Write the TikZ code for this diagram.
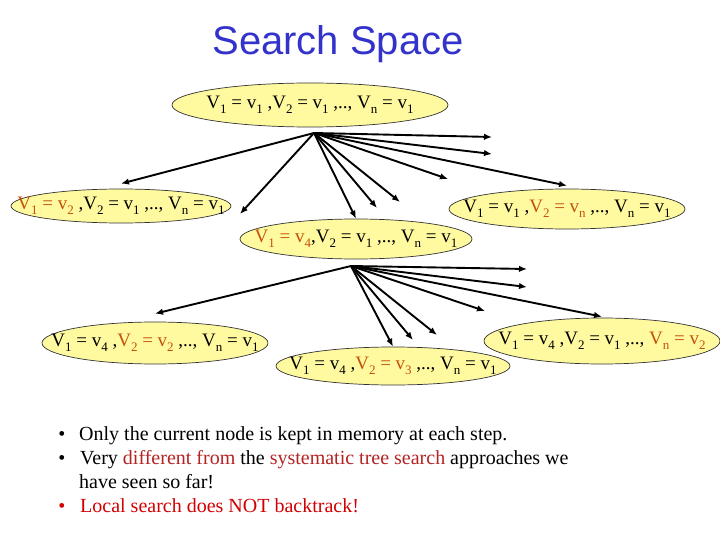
\documentclass[tikz,border=0pt]{standalone}
\usepackage{fontspec}
\setmainfont{Liberation Serif}
\newfontfamily\titlefont{Liberation Sans}
\usetikzlibrary{shapes.geometric,arrows.meta}
\definecolor{fillyel}{RGB}{255,250,160}
\definecolor{hl}{RGB}{196,80,10}
\definecolor{titleblue}{RGB}{51,51,204}
\definecolor{dred}{RGB}{180,35,35}
\definecolor{bred}{RGB}{210,0,0}
\newcommand{\sbs}[1]{\raisebox{-4.5pt}{\fontsize{13}{13}\selectfont #1}}
\newcommand{\lbl}[1]{\makebox[0pt]{\raisebox{-2pt}{\fontsize{19}{19}\selectfont #1}}}
\tikzset{
  st/.style={ellipse, draw=black!80, fill=fillyel, line width=0.7pt, inner sep=0pt},
  arr/.style={-{Latex[length=8pt,width=6.5pt]}, line width=1.9pt},
  btxt/.style={anchor=base west, inner sep=0pt, font=\fontsize{20}{24}\selectfont},
  bdot/.style={anchor=base, inner sep=0pt, font=\fontsize{20}{24}\selectfont}
}
\begin{document}
\begin{tikzpicture}[x=1pt,y=-1pt]
\useasboundingbox (0,0) rectangle (720,540);
\node[inner sep=0pt, font=\titlefont\fontsize{40}{40}\selectfont, text=titleblue] (title) at (338,44) {Search Space};

\node[st, minimum width=276, minimum height=44] (root) at (310,105)
  {\lbl{V\sbs{1} = v\sbs{1} ,V\sbs{2} = v\sbs{1} ,.., V\sbs{n} = v\sbs{1}}};
\node[st, minimum width=220, minimum height=34] (L) at (121,206)
  {\lbl{{\color{hl}V\sbs{1} = v\sbs{2}} ,V\sbs{2} = v\sbs{1} ,.., V\sbs{n} = v\sbs{1}}};
\node[st, minimum width=236, minimum height=40] (R) at (567,209)
  {\lbl{V\sbs{1} = v\sbs{1} ,{\color{hl}V\sbs{2} = v\sbs{n}} ,.., V\sbs{n} = v\sbs{1}}};
\node[st, minimum width=232, minimum height=40] (M) at (356,239)
  {\lbl{{\color{hl}V\sbs{1} = v\sbs{4}},V\sbs{2} = v\sbs{1} ,.., V\sbs{n} = v\sbs{1}}};
\node[st, minimum width=226, minimum height=42] (BL) at (155,343)
  {\lbl{V\sbs{1} = v\sbs{4} ,{\color{hl}V\sbs{2} = v\sbs{2}} ,.., V\sbs{n} = v\sbs{1}}};
\node[st, minimum width=236, minimum height=46] (BR) at (602,341)
  {\lbl{V\sbs{1} = v\sbs{4} ,V\sbs{2} = v\sbs{1} ,.., {\color{hl}V\sbs{n} = v\sbs{2}}}};
\node[st, minimum width=234, minimum height=38] (BM) at (393,366)
  {\lbl{V\sbs{1} = v\sbs{4} ,{\color{hl}V\sbs{2} = v\sbs{3}} ,.., V\sbs{n} = v\sbs{1}}};

\coordinate (r0) at (314,133);
\coordinate (e1) at (240,214);
\coordinate (e2) at (377,208);
\coordinate (e3) at (400,202);
\coordinate (e4) at (448,179);
\coordinate (e5) at (492,154);
\coordinate (e6) at (492,137);
\draw[arr] (r0) -- ([yshift=5pt]L.north);
\draw[arr] (r0) -- (e1);
\draw[arr] (r0) -- (M.north);
\draw[arr] (r0) -- (e2);
\draw[arr] (r0) -- (e3);
\draw[arr] (r0) -- (e4);
\draw[arr] (r0) -- ([yshift=3pt]R.north);
\draw[arr] (r0) -- (e5);
\draw[arr] (r0) -- (e6);

\coordinate (m0) at (351,266);
\coordinate (f1) at (413,340);
\coordinate (f2) at (437,335);
\coordinate (f3) at (485,311);
\coordinate (f4) at (527,287);
\coordinate (f5) at (527,269);
\draw[arr] (m0) -- ([yshift=8pt]BL.north);
\draw[arr] (m0) -- (BM.north);
\draw[arr] (m0) -- (f1);
\draw[arr] (m0) -- (f2);
\draw[arr] (m0) -- (f3);
\draw[arr] (m0) -- ([yshift=1pt]BR.north);
\draw[arr] (m0) -- (f4);
\draw[arr] (m0) -- (f5);

\node[bdot] (d1) at (62,440) {\textbullet};
\node[btxt] (t1) at (79,440) {Only the current node is kept in memory at each step.};
\node[bdot] (d2) at (62,464) {\textbullet};
\node[btxt] (t2) at (80,464) {Very {\color{dred}different from} the {\color{dred}systematic tree search} approaches we};
\node[btxt] (t3) at (79,488) {have seen so far!};
\node[bdot, text=bred] (d4) at (62,512) {\textbullet};
\node[btxt, text=bred] (t4) at (80,512) {Local search does NOT backtrack!};
\end{tikzpicture}
\end{document}
